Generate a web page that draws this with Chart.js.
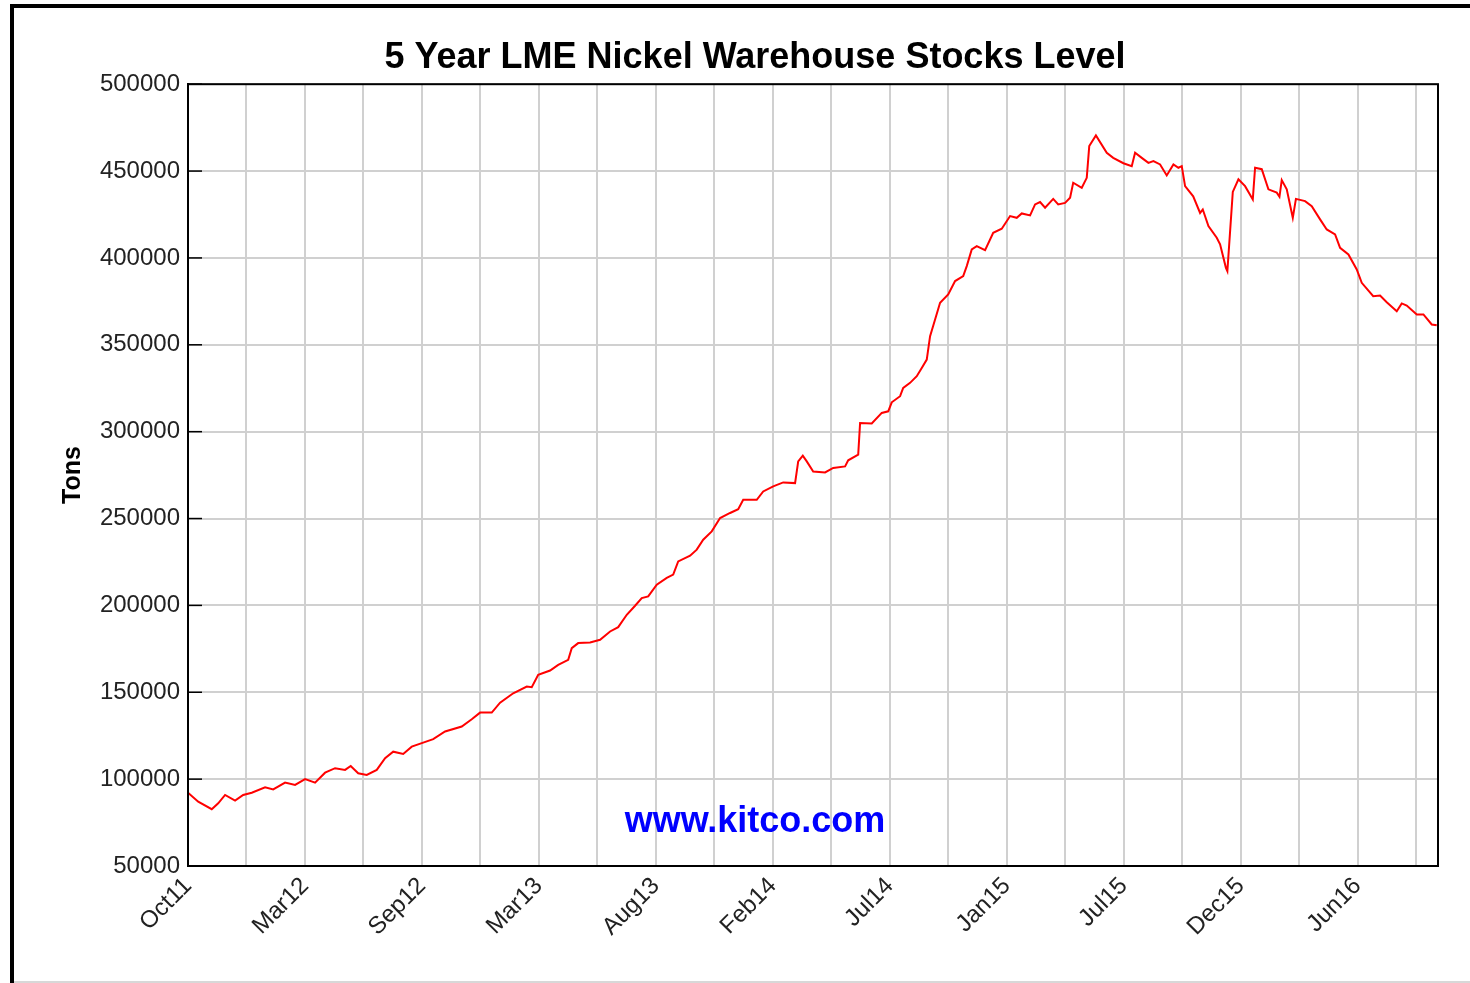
<!DOCTYPE html>
<html>
<head>
<meta charset="utf-8">
<script src="https://cdn.jsdelivr.net/npm/chart.js@4.4.0/dist/chart.umd.min.js"></script>
<style>
  body { margin: 0; background: #fff; width: 1470px; height: 983px; overflow: hidden; position: relative; }
  #frameLeft { position: absolute; left: 10px; top: 4px; width: 4px; height: 979px; background: #000; }
  #frameTop { position: absolute; left: 10px; top: 4px; width: 1460px; height: 4px; background: #000; }
  #frameBottom { position: absolute; left: 14px; top: 981px; width: 1456px; height: 2px; background: #d8d8d8; }
  #graph { position: absolute; left: 40px; top: 0; }
</style>
</head>
<body>
<div id="frameLeft"></div>
<div id="frameTop"></div>
<div id="frameBottom"></div>
<canvas id="graph" width="1430" height="983"></canvas>
<script>
const chartTitle = '5 Year LME Nickel Warehouse Stocks Level'

// months since Oct 2011
const months = [0, 0.49, 1.14, 1.45, 1.78, 2.26, 2.65, 3.06, 3.70, 4.09, 4.66, 5.14, 5.62, 6.10, 6.58, 7.06, 7.54, 7.81, 8.17, 8.58,
  9.06, 9.46, 9.85, 10.33, 10.74, 11.22, 11.77, 12.34, 13.14, 13.62, 14.02, 14.58, 14.98, 15.61, 16.26, 16.50, 16.81, 17.38, 17.77, 18.25,
  18.42, 18.73, 19.30, 19.78, 20.26, 20.65, 21.06, 21.46, 21.78, 22.09, 22.50, 22.98, 23.29, 23.53, 24.10, 24.42, 24.73, 25.14, 25.54, 26.02,
  26.41, 26.65, 27.30, 27.61, 28.09, 28.57, 29.14, 29.29, 29.51, 29.70, 30.01, 30.58, 30.97, 31.54, 31.69, 32.17, 32.26, 32.82, 33.30, 33.61,
  33.78, 34.18, 34.33, 34.66, 34.98, 35.22, 35.46, 35.62, 35.86, 36.10, 36.49, 36.82, 37.21, 37.38, 37.62, 37.86, 38.26, 38.65, 39.06, 39.46,
  39.78, 40.02, 40.42, 40.66, 40.90, 41.14, 41.53, 41.77, 42.10, 42.34, 42.49, 42.90, 43.14, 43.26, 43.58, 44.10, 44.41, 44.90, 45.30, 45.46,
  45.78, 46.10, 46.34, 46.66, 46.98, 47.30, 47.54, 47.70, 47.86, 48.25, 48.58, 48.71, 48.98, 49.38, 49.54, 49.82, 49.89, 50.15, 50.42, 50.74,
  51.11, 51.22, 51.54, 51.86, 52.26, 52.39, 52.50, 52.74, 53.03, 53.18, 53.62, 53.94, 54.34, 54.66, 55.06, 55.30, 55.70, 56.10, 56.34, 56.89,
  57.22, 57.54, 58.02, 58.26, 58.50, 58.98, 59.30, 59.70, 59.94]

const tons = [92200, 87000, 82700, 86100, 90900, 87600, 90900, 92200, 95300, 94100, 98000, 96700, 100000, 98000, 103700, 106300, 105300, 107600, 103400, 102400,
  105300, 112000, 115800, 114500, 118700, 120700, 123000, 127400, 130300, 134500, 138300, 138300, 144000, 149400, 153300, 152900, 160000, 162500, 165800, 168700,
  175400, 178300, 178600, 180200, 185000, 187500, 194600, 199800, 204200, 205200, 211900, 215800, 217700, 225300, 228600, 232100, 237800, 242600, 250300, 253200,
  255400, 260800, 260800, 265600, 268500, 270800, 270400, 282900, 286200, 282900, 277100, 276500, 279100, 280000, 283500, 286800, 305000, 304700, 310800, 311700,
  316900, 320400, 325200, 328100, 331900, 336700, 341500, 355000, 364600, 374200, 379000, 386700, 389500, 395300, 404900, 406800, 404500, 414500, 416800, 424100,
  423100, 425600, 424500, 430800, 432200, 428900, 434000, 430800, 431700, 434600, 443300, 440400, 446100, 464400, 470500, 460500, 457600, 454500, 452800, 460500,
  457600, 454700, 455700, 453800, 447500, 453800, 451900, 452800, 441300, 435500, 425900, 427900, 418300, 411600, 407800, 394300, 392400, 438000, 445300, 441300,
  433700, 451900, 451100, 439500, 437600, 435200, 444800, 439500, 423100, 434000, 432700, 429800, 422200, 416400, 413500, 405800, 402000, 393400, 385700, 378000,
  378400, 374500, 369300, 373800, 372600, 367500, 367500, 361700, 361200]

const xLabels = ['Oct11', 'Mar12', 'Sep12', 'Mar13', 'Aug13', 'Feb14', 'Jul14', 'Jan15', 'Jul15', 'Dec15', 'Jun16']
const xMax = 60
const gridCount = 21
const gridStep = xMax / 21.375

const yMin = 50000
const yMax = 500000
const yStep = 50000

const fontFam = '"Liberation Sans", Arial, sans-serif'

// borda da area, marcas internas do eixo y e marca d'agua
const extras = {
  id: 'extras',
  beforeDatasetsDraw(chart) {
    const { ctx, chartArea: a } = chart
    ctx.save()
    ctx.font = 'bold 36px ' + fontFam
    ctx.fillStyle = '#0000ff'
    ctx.textAlign = 'center'
    ctx.textBaseline = 'middle'
    ctx.fillText('www.kitco.com', chart.width / 2, a.bottom - 44)
    ctx.restore()
  },
  afterDraw(chart) {
    const { ctx, chartArea: a, scales } = chart
    ctx.save()
    ctx.strokeStyle = '#000'
    ctx.lineWidth = 1.5
    scales.y.ticks.forEach(t => {
      const py = scales.y.getPixelForValue(t.value)
      ctx.beginPath()
      ctx.moveTo(a.left, py)
      ctx.lineTo(a.left + 14, py)
      ctx.stroke()
    })
    ctx.lineWidth = 2
    ctx.strokeRect(a.left, a.top, a.right - a.left, a.bottom - a.top)
    ctx.restore()
  }
}

const ctx = document.getElementById('graph').getContext('2d')
const chart = new Chart(ctx, {
  type: 'line',
  data: {
    datasets: [{
      data: months.map((m, i) => ({ x: m, y: tons[i] })),
      borderColor: '#ff0000',
      borderWidth: 2,
      pointRadius: 0,
      tension: 0,
      fill: false
    }]
  },
  options: {
    responsive: false,
    animation: false,
    layout: { padding: { left: 32, right: 32, top: 0, bottom: 0 } },
    plugins: {
      legend: { display: false },
      tooltip: { enabled: false },
      title: {
        display: true,
        text: chartTitle,
        color: '#000',
        font: { family: fontFam, size: 36, weight: 'bold' },
        padding: { top: 36, bottom: 5 }
      }
    },
    scales: {
      x: {
        type: 'linear',
        min: 0,
        max: xMax,
        afterBuildTicks: s => {
          const t = []
          for (let k = 0; k <= gridCount; k++) t.push({ value: k * gridStep })
          s.ticks = t
        },
        afterFit: s => { s.height = 117 },
        grid: { color: '#d0d0d0', lineWidth: 2, drawTicks: false },
        border: { display: true, color: '#000', width: 2 },
        ticks: {
          autoSkip: false,
          minRotation: 45,
          maxRotation: 45,
          padding: 6,
          color: '#222',
          font: { family: fontFam, size: 24 },
          callback: (v, i) => (i % 2 === 0 ? (xLabels[i / 2] || '') : '')
        }
      },
      y: {
        min: yMin,
        max: yMax,
        afterFit: s => { s.width = 116 },
        grid: { color: '#d0d0d0', lineWidth: 2, drawTicks: false },
        border: { display: true, color: '#000', width: 2 },
        ticks: {
          stepSize: yStep,
          padding: 8,
          color: '#222',
          font: { family: fontFam, size: 24 },
          callback: v => String(v)
        },
        title: {
          display: true,
          text: 'Tons',
          color: '#000',
          font: { family: fontFam, size: 25, weight: 'bold' },
          padding: { top: -14, bottom: 0 }
        }
      }
    }
  },
  plugins: [extras]
})
</script>
</body>
</html>
